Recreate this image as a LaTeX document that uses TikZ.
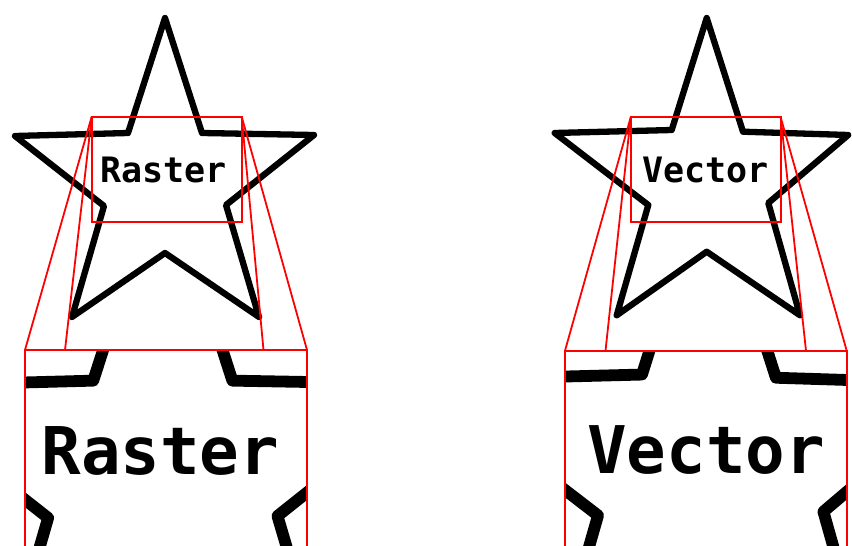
\documentclass[tikz,border=0pt]{standalone}
\usepackage{fontspec}
\newfontfamily\labelfont{DejaVu Sans Mono}
\tikzset{
  starline/.style={draw=black, line join=round, line cap=round},
  zoombox/.style={draw=red, line width=2pt, rectangle, inner sep=0pt, outer sep=0pt, anchor=north west},
  zoomline/.style={draw=red, line width=1.8pt},
  lbl/.style={inner sep=0pt, anchor=base, font=\labelfont\bfseries\fontsize{35}{35}\selectfont}
}
\begin{document}
\begin{tikzpicture}[x=1pt,y=-1pt]
\useasboundingbox (0,0) rectangle (852,546);
\fill[white] (0,0) rectangle (852,546);

% ---------- Raster: small view ----------
\begin{scope}[shift={(91.7,116.7)}]
  \draw[starline, line width=6.3pt] (73.3,-98.7) -- (110.3,16.3) -- (222.3,18.3) -- (134.3,88.3) -- (167.3,200.3) -- (73.3,136.3) -- (-19.7,200.3) -- (12.3,89.3) -- (-76.7,19.3) -- (36.3,16.3) -- cycle;
  \node[lbl] (rTxt) at (72,66) {Raster};
\end{scope}

% ---------- Vector: small view ----------
\begin{scope}[shift={(630.7,117.3)}]
  \draw[starline, line width=6.3pt] (76,-99.3) -- (112.3,14.4) -- (217.5,17.7) -- (137.6,85.7) -- (169.3,198) -- (76,134.4) -- (-14,198) -- (17.6,87.7) -- (-76,15.7) -- (41,12.7) -- cycle;
  \node[lbl] (vTxt) at (75.1,65.4) {Vector};
\end{scope}

% ---------- Raster: magnified view ----------
\begin{scope}
  \clip (25,350) rectangle (307,547.4);
  \begin{scope}[shift={(25,350)}, scale=1.88]
    \draw[starline, line width=11.8pt] (73.3,-98.7) -- (110.3,16.3) -- (222.3,18.3) -- (134.3,88.3) -- (167.3,200.3) -- (73.3,136.3) -- (-19.7,200.3) -- (12.3,89.3) -- (-76.7,19.3) -- (36.3,16.3) -- cycle;
    \node[lbl, transform shape] (rTxtBig) at (72,66) {Raster};
  \end{scope}
\end{scope}

% ---------- Vector: magnified view ----------
\begin{scope}
  \clip (565,350.7) rectangle (846.7,547.4);
  \begin{scope}[shift={(565,350.7)}, scale=1.878]
    \draw[starline, line width=11.8pt] (76,-99.3) -- (112.3,14.4) -- (217.5,17.7) -- (137.6,85.7) -- (169.3,198) -- (76,134.4) -- (-14,198) -- (17.6,87.7) -- (-76,15.7) -- (41,12.7) -- cycle;
    \node[lbl, transform shape] (vTxtBig) at (75.1,65.4) {Vector};
  \end{scope}
\end{scope}

% ---------- zoom frames ----------
\node[zoombox, minimum width=150pt, minimum height=105pt] (rSmall) at (91.7,116.7) {};
\node[zoombox, minimum width=282pt, minimum height=197.4pt] (rBig) at (25,350) {};
\node[zoombox, minimum width=150pt, minimum height=104.4pt] (vSmall) at (630.7,117.3) {};
\node[zoombox, minimum width=281.7pt, minimum height=196.7pt] (vBig) at (565,350.7) {};

\coordinate (rInL) at (65,350);
\coordinate (rInR) at (263.5,350);
\coordinate (vInL) at (605.5,350.7);
\coordinate (vInR) at (806,350.7);

\draw[zoomline] (rSmall.north west) -- (rBig.north west);
\draw[zoomline] (rSmall.north west) -- (rInL);
\draw[zoomline] (rSmall.north east) -- (rBig.north east);
\draw[zoomline] (rSmall.north east) -- (rInR);
\draw[zoomline] (vSmall.north west) -- (vBig.north west);
\draw[zoomline] (vSmall.north west) -- (vInL);
\draw[zoomline] (vSmall.north east) -- (vBig.north east);
\draw[zoomline] (vSmall.north east) -- (vInR);
\end{tikzpicture}
\end{document}
